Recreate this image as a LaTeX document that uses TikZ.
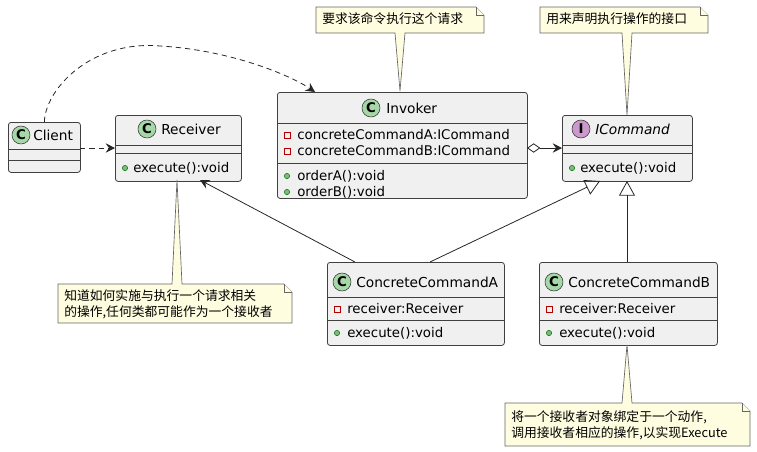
\documentclass[tikz,border=0pt]{standalone}
\usepackage{fontspec}
\setmainfont{DejaVu Sans}
\newfontfamily\cjk{Noto Sans CJK SC}
\usetikzlibrary{arrows.meta}
\begin{document}
\begin{tikzpicture}[x=0.75pt,y=-0.75pt,
  box/.style={draw=black!75,fill=black!6,rounded corners=2pt,line width=0.6pt},
  sep/.style={draw=black!75,line width=0.6pt},
  ttl/.style={font=\fontsize{10.3}{12}\selectfont,anchor=west,inner sep=0},
  mem/.style={font=\fontsize{10}{12}\selectfont,anchor=west,inner sep=0},
  cicon/.style={circle,draw=black!80,fill=green!55!black!35,minimum size=13.5pt,inner sep=0,font=\fontsize{10}{10}\selectfont\bfseries},
  iicon/.style={circle,draw=black!80,fill=violet!40,minimum size=13.5pt,inner sep=0,font=\fontsize{10}{10}\selectfont\bfseries},
  note/.style={draw=black!60,fill=yellow!12,line width=0.5pt},
  ntxt/.style={font=\fontsize{9.6}{12}\selectfont\cjk,anchor=west,inner sep=0,align=left},
  assoc/.style={draw=black!85,line width=0.6pt},
  dep/.style={draw=black!85,line width=0.6pt,dashed,dash pattern=on 4pt off 3pt},
  tip/.style={-{Stealth[length=7pt,width=7pt,inset=2.5pt]}},
  pub/.style={circle,draw=green!45!black,fill=green!45!black!50,minimum size=4pt,inner sep=0},
  priv/.style={rectangle,draw=red!70!black,minimum size=4.5pt,inner sep=0}]
\useasboundingbox (0,0) rectangle (757,451);
% Client
\node[box,minimum width=54pt,minimum height=37.5pt,anchor=north west] (client) at (8,122) {};
\draw[sep] (8,149)--(80,149) (8,160)--(80,160);
\node[cicon] (ci) at (21,135) {C};
\node[ttl] (ct) at (33,135) {Client};
% Receiver
\node[box,minimum width=94.5pt,minimum height=49.5pt,anchor=north west] (recv) at (115,115) {};
\draw[sep] (115,145)--(241,145) (115,153)--(241,153);
\node[cicon] (ri) at (147,129) {C};
\node[ttl] (rt) at (161,129) {Receiver};
\node[pub] (rp) at (125,168) {};
\node[mem] (rm) at (133,168) {execute():void};
% Invoker
\node[box,minimum width=187.5pt,minimum height=79.5pt,anchor=north west] (inv) at (277,92) {};
\draw[sep] (277,123)--(527,123) (277,163)--(527,163);
\node[cicon] (ii) at (371,108) {C};
\node[ttl] (it) at (386,108) {Invoker};
\node[priv] (ip1) at (287,135) {};
\node[mem] (ia1) at (297,135) {concreteCommandA:ICommand};
\node[priv] (ip2) at (287,151) {};
\node[mem] (ia2) at (297,151) {concreteCommandB:ICommand};
\node[pub] (ip3) at (287,176) {};
\node[mem] (im1) at (297,176) {orderA():void};
\node[pub] (ip4) at (287,192) {};
\node[mem] (im2) at (297,192) {orderB():void};
% ICommand
\node[box,minimum width=97.5pt,minimum height=49.5pt,anchor=north west] (icmd) at (562,115) {};
\draw[sep] (562,145)--(692,145) (562,153)--(692,153);
\node[iicon] (ici) at (581,129) {I};
\node[ttl,font=\fontsize{10.3}{12}\selectfont\itshape] (ict) at (595,129) {ICommand};
\node[pub] (icp) at (572,168) {};
\node[mem] (icm) at (580,168) {execute():void};
% ConcreteCommandA
\node[box,minimum width=132.75pt,minimum height=62.25pt,anchor=north west] (cca) at (327,262) {};
\draw[sep] (327,297)--(504,297) (327,320)--(504,320);
\node[cicon] (cai) at (342,282) {C};
\node[ttl] (cat) at (356,282) {ConcreteCommandA};
\node[priv] (cap1) at (337,309) {};
\node[mem] (caa) at (347,309) {receiver:Receiver};
\node[pub] (cap2) at (337,333) {};
\node[mem] (cam) at (347,333) {execute():void};
% ConcreteCommandB
\node[box,minimum width=133.5pt,minimum height=62.25pt,anchor=north west] (ccb) at (539,262) {};
\draw[sep] (539,297)--(717,297) (539,320)--(717,320);
\node[cicon] (cbi) at (554,282) {C};
\node[ttl] (cbt) at (568,282) {ConcreteCommandB};
\node[priv] (cbp1) at (549,309) {};
\node[mem] (cba) at (559,309) {receiver:Receiver};
\node[pub] (cbp2) at (549,333) {};
\node[mem] (cbm) at (559,333) {execute():void};
% Notes
\draw[note] (316,7)--(476,7)--(484,15)--(484,33)--(405,33)--(400,91)--(395,33)--(316,33)--cycle;
\draw[note] (476,7)--(476,15)--(484,15);
\node[ntxt] (n1) at (322,19) {要求该命令执行这个请求};
\draw[note] (540,7)--(700,7)--(708,15)--(708,33)--(632,33)--(627,115)--(622,33)--(540,33)--cycle;
\draw[note] (700,7)--(700,15)--(708,15);
\node[ntxt] (n2) at (546,19) {用来声明执行操作的接口};
\draw[note] (58,284)--(172,284)--(177,180)--(182,284)--(284,284)--(292,292)--(292,323)--(58,323)--cycle;
\draw[note] (284,284)--(284,292)--(292,292);
\node[ntxt] (n3) at (64,304) {知道如何实施与执行一个请求相关\\的操作,任何类都可能作为一个接收者};
\draw[note] (505,403)--(622,403)--(627,345)--(632,403)--(742,403)--(750,411)--(750,446)--(505,446)--cycle;
\draw[note] (742,403)--(742,411)--(750,411);
\node[ntxt] (n4) at (511,425) {将一个接收者对象绑定于一个动作,\\调用接收者相应的操作,以实现Execute};
% Connectors
\coordinate (invtop) at (315,92);
\draw[dep,tip] (client.north) .. controls (45,90) and (90,40) .. (160,46) .. controls (230,50) and (290,75) .. (invtop);
\draw[dep,tip] (80,148)--(115,148);
\draw[assoc,{Diamond[open,length=10pt,width=7pt]}-{Stealth[length=7pt,width=7pt,inset=2.5pt]}] (527,148)--(562,148);
\draw[assoc,tip] (355,262)--(200,180);
\draw[assoc,-{Triangle[open,length=11pt,width=12pt]}] (430,262)--(600,181);
\draw[assoc,-{Triangle[open,length=11pt,width=12pt]}] (627,262)--(627,181);
\end{tikzpicture}
\end{document}
